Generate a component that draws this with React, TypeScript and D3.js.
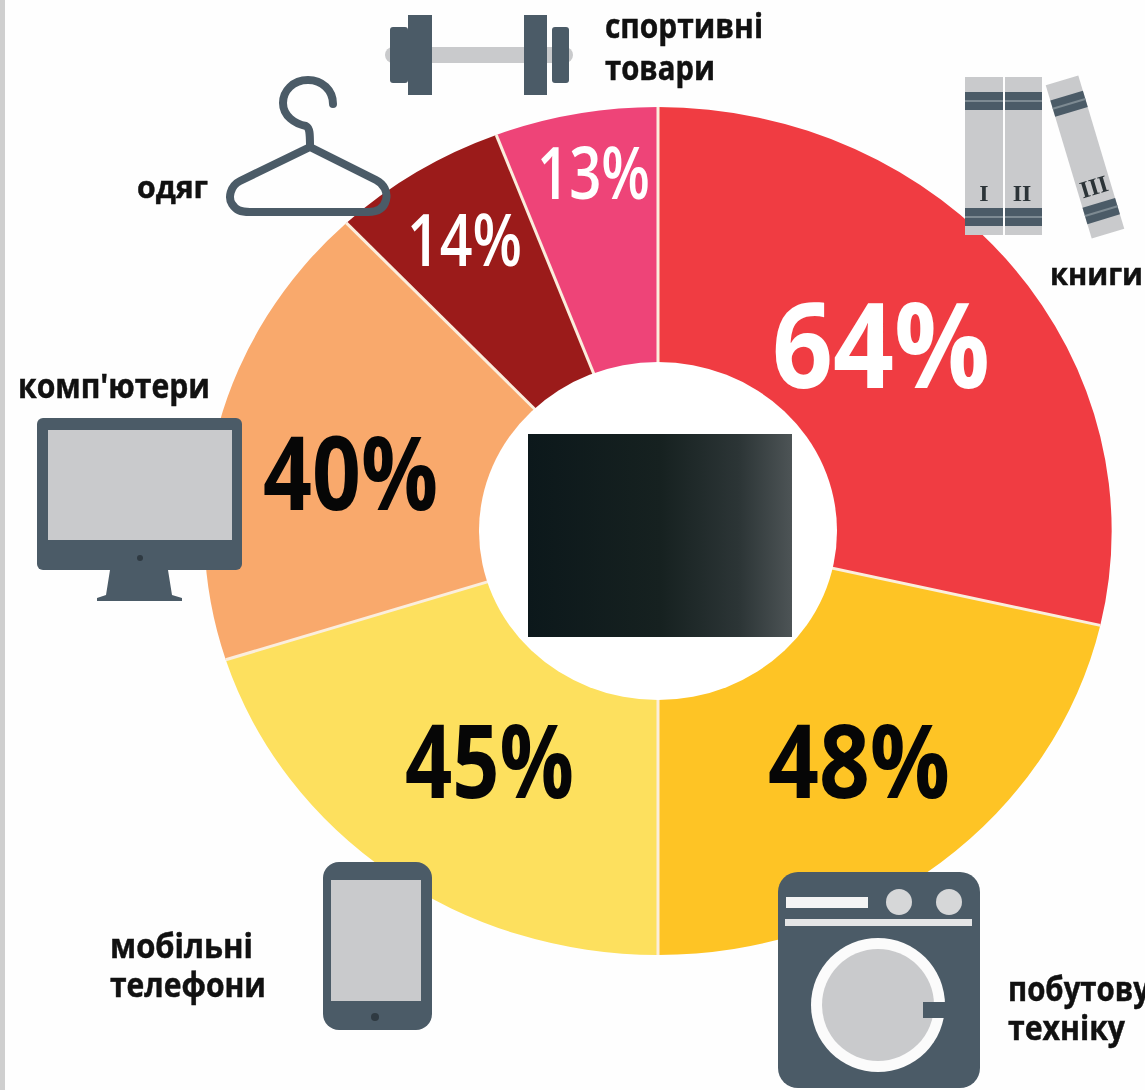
import React from "react";
import * as d3 from "d3";

const categories = ["книги", "побутову техніку", "мобільні телефони", "комп'ютери", "одяг", "спортивні товари"];
const values = [64, 48, 45, 40, 14, 13];
const sliceColors = ["#f03c42", "#fec425", "#fde05e", "#f9a96c", "#9b1b1a", "#ee4478"];

const W = 1145, H = 1090, CX = 658, CY = 531, RY = 424, RIN = 169, SX = 1.07;
const SLATE = "#4b5b67", LIGHT = "#c9cacc";
const FONT = "'Open Sans', 'Noto Sans', sans-serif";

const pctLayout = [
  { x: 772, y: 388, w: 218, size: 118, fill: "#fff", weight: 700 },
  { x: 768, y: 798, w: 182, size: 102, fill: "#060606", weight: 700 },
  { x: 405, y: 798, w: 169, size: 102, fill: "#060606", weight: 700 },
  { x: 263, y: 510, w: 175, size: 102, fill: "#060606", weight: 700 },
  { x: 407, y: 266, w: 115, size: 72, fill: "#fff", weight: 600 },
  { x: 537, y: 199, w: 113, size: 72, fill: "#fff", weight: 600 },
];

const labelLines = [
  ["книги"],
  ["побутову", "техніку"],
  ["мобільні", "телефони"],
  ["комп'ютери"],
  ["одяг"],
  ["спортивні", "товари"],
];
const labelLayout = [
  [{ x: 1050, y: 285, w: 93 }],
  [{ x: 1008, y: 1001, w: 142 }, { x: 1008, y: 1040, w: 117 }],
  [{ x: 110, y: 958, w: 143 }, { x: 110, y: 997, w: 156 }],
  [{ x: 18, y: 398, w: 192 }],
  [{ x: 137, y: 198, w: 71 }],
  [{ x: 605, y: 38, w: 158 }, { x: 605, y: 80, w: 110 }],
];

const Band = (p: { x: number; y: number; w: number; h: number }) => (
  <g>
    <rect x={p.x} y={p.y} width={p.w} height={p.h} fill={SLATE} />
    <rect x={p.x} y={p.y + p.h / 2 - 1} width={p.w} height={2} fill="#7d8a92" />
  </g>
);

export default function App() {
  const pie = d3.pie<number>().sort(null).value((d) => d)(values);
  const arc = d3.arc<d3.PieArcDatum<number>>().innerRadius(RIN - 6).outerRadius(RY);
  return (
    <svg width={W} height={H} viewBox={`0 0 ${W} ${H}`} style={{ position: "absolute", left: 0, top: 0, background: "#fefefe", filter: "blur(0.7px)" }}>
      <defs>
        <linearGradient id="tv" x1="0" x2="1" y1="0" y2="0">
          <stop offset="0" stopColor="#0c181b" />
          <stop offset="0.5" stopColor="#162120" />
          <stop offset="0.8" stopColor="#2c3536" />
          <stop offset="1" stopColor="#4d5456" />
        </linearGradient>
      </defs>
      <rect x={0} y={0} width={5} height={H} fill="#cfcfcf" />

      <g transform={`translate(${CX},${CY}) scale(${SX},1)`}>
        {pie.map((s, i) => (
          <path key={categories[i]} d={arc(s) ?? ""} fill={sliceColors[i]} />
        ))}
        {pie.map((s, i) => {
          const [x, y] = d3.pointRadial(s.startAngle, RY);
          return <line key={i} x1={0} y1={0} x2={x} y2={y} stroke="#fbeedd" strokeWidth={3} vectorEffect="non-scaling-stroke" />;
        })}
        <ellipse cx={0} cy={0} rx={RIN * 0.99} ry={RIN} fill="#fff" />
      </g>
      <rect x={528} y={434} width={264} height={203} fill="url(#tv)" />

      {/* dumbbell */}
      <g>
        <rect x={385} y={47} width={188} height={16} rx={8} fill={LIGHT} />
        <rect x={390} y={27} width={18} height={56} rx={3} fill={SLATE} />
        <rect x={408} y={15} width={24} height={80} fill={SLATE} />
        <rect x={524} y={15} width={23} height={80} fill={SLATE} />
        <rect x={552} y={27} width={17} height={56} rx={3} fill={SLATE} />
      </g>

      {/* hanger */}
      <path
        d="M333,104 C333,90 322,80 308,80 C293,80 283,91 283,103 C283,116 295,124 306,126 C310,128 310,134 310,147 L240,181 C230,186 228,198 232,204 C236,210 240,212 250,212 L368,212 C378,212 384,208 386,200 C388,192 384,184 376,180 L310,147"
        fill="none" stroke={SLATE} strokeWidth={8} strokeLinecap="round" strokeLinejoin="round"
      />

      {/* books */}
      <g>
        <rect x={965} y={77} width={38} height={158} fill={LIGHT} />
        <rect x={1005} y={77} width={37} height={158} fill={LIGHT} />
        <Band x={965} y={92} w={38} h={18} />
        <Band x={1005} y={92} w={37} h={18} />
        <Band x={965} y={208} w={38} h={18} />
        <Band x={1005} y={208} w={37} h={18} />
        <g transform="translate(1085,157) rotate(-16.7)">
          <rect x={-17} y={-80} width={34} height={160} fill={LIGHT} />
          <Band x={-17} y={-64} w={34} h={17} />
          <Band x={-17} y={48} w={34} h={17} />
          <text x={0} y={39} textAnchor="middle" fontFamily="'Liberation Serif', serif" fontWeight={700} fontSize={24} fill="#2c3438">III</text>
        </g>
        <text x={984} y={201} textAnchor="middle" fontFamily="'Liberation Serif', serif" fontWeight={700} fontSize={24} fill="#2c3438">I</text>
        <text x={1022} y={201} textAnchor="middle" fontFamily="'Liberation Serif', serif" fontWeight={700} fontSize={24} fill="#2c3438">II</text>
      </g>

      {/* monitor */}
      <g>
        <path d="M110,570 L168,570 L172,595 L182,598 L182,601 L97,601 L97,598 L106,595 Z" fill={SLATE} />
        <rect x={37} y={418} width={205} height={152} rx={6} fill={SLATE} />
        <rect x={48} y={430} width={184} height={110} fill={LIGHT} />
        <circle cx={140} cy={558} r={3} fill="#2f3a42" />
      </g>

      {/* tablet */}
      <g>
        <rect x={323} y={862} width={109} height={168} rx={16} fill={SLATE} />
        <rect x={331} y={880} width={90} height={121} fill={LIGHT} />
        <circle cx={375} cy={1017} r={4} fill="#2f3a42" />
      </g>

      {/* washer */}
      <g>
        <rect x={778} y={872} width={202} height={216} rx={20} fill={SLATE} />
        <rect x={786} y={897} width={82} height={11} fill="#f4f4f4" />
        <circle cx={899} cy={902} r={13} fill="#d6d7d8" />
        <circle cx={949} cy={902} r={13} fill="#d6d7d8" />
        <rect x={785} y={919} width={187} height={7} fill="#e4e5e6" />
        <circle cx={878} cy={1005} r={67} fill="#fbfbfb" />
        <circle cx={878} cy={1005} r={56} fill={LIGHT} />
        <rect x={923} y={1002} width={30} height={16} fill={SLATE} />
      </g>

      {pie.map((s, i) => {
        const p = pctLayout[i];
        return (
          <text key={i} x={p.x} y={p.y} textLength={p.w} lengthAdjust="spacingAndGlyphs" fontFamily={FONT} fontWeight={p.weight} fontSize={p.size} fill={p.fill}>
            {`${s.data}%`}
          </text>
        );
      })}

      {labelLines.map((lines, i) =>
        lines.map((t, j) => {
          const l = labelLayout[i][j];
          return (
            <text key={`${i}-${j}`} x={l.x} y={l.y} textLength={l.w} lengthAdjust="spacingAndGlyphs" fontFamily={FONT} fontWeight={700} fontSize={i === 0 || i === 4 ? 31 : 34} fill="#111" stroke="#111" strokeWidth={0.5}>
              {t}
            </text>
          );
        })
      )}
    </svg>
  );
}
